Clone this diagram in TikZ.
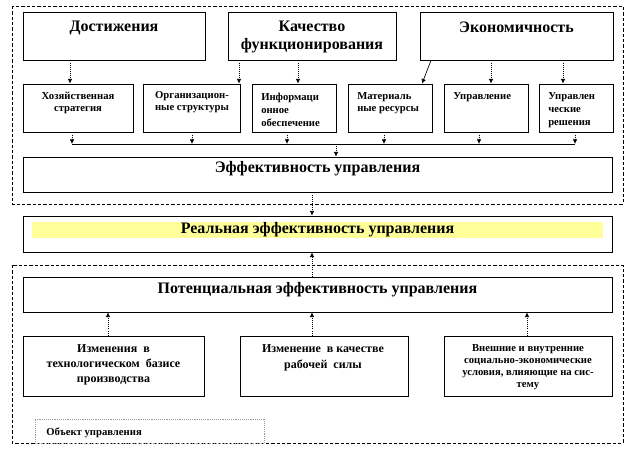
\documentclass[tikz,border=0pt]{standalone}
\usepackage{fontspec}
\setmainfont{Liberation Serif}[BoldFont={Liberation Serif Bold}]
\newfontfamily\tnr{Liberation Serif}[BoldFont={Liberation Serif Bold}]
\usetikzlibrary{arrows.meta}
\definecolor{paleyellow}{HTML}{FFFF99}
\definecolor{objgray}{HTML}{9A9A9A}

\begin{document}
\begin{tikzpicture}[x=0.75pt, y=-0.75pt,
    box/.style={draw=black, line width=0.6pt, inner sep=0pt},
    title/.style={font=\tnr\fontsize{12}{14}\selectfont\bfseries, align=center, inner sep=0pt},
    small/.style={font=\tnr\fontsize{8}{9.5}\selectfont\bfseries, inner sep=0pt},
    mid/.style={font=\tnr\fontsize{9}{11.5}\selectfont\bfseries, align=center, inner sep=0pt},
    arr/.style={-{Latex[length=3.5pt,width=3.5pt]}, densely dotted, line width=0.6pt},
    area/.style={draw, dash pattern=on 2.5pt off 1.5pt, line width=0.5pt}]
    \useasboundingbox (0,0) rectangle (636,468);

    % Areas
    \draw[area] (12,6) rectangle (623,204);
    \draw[area] (12,265) rectangle (623,443);

    % Top row
    \node[box, minimum width=136.5pt, minimum height=36pt] (dost) at (114,36) {};
    \node[title] (dostT) at (114,28) {Достижения};
    \node[box, minimum width=126pt, minimum height=36pt] (kach) at (312,36) {};
    \node[title, font=\tnr\fontsize{12}{13.5}\selectfont\bfseries] (kachT) at (312,37) {Качество\\функционирования};
    \node[box, minimum width=144.75pt, minimum height=36pt] (econ) at (516.5,36) {};
    \node[title] (econT) at (516.5,27) {Экономичность};

    % Second row
    \node[box, minimum width=82.5pt, minimum height=36pt] (hoz) at (78,108) {};
    \node[small, align=center] (hozT) at (78,103) {Хозяйственная\\стратегия};
    \node[box, minimum width=72.75pt, minimum height=36pt] (org) at (191.5,108) {};
    \node[small, align=center] (orgT) at (192,102) {Организацион-\\ные структуры};
    \node[box, minimum width=63pt, minimum height=36pt] (info) at (294,108) {};
    \node[small, align=left, anchor=west] (infoT) at (261,110) {Информаци\\онное\\обеспечение};
    \node[box, minimum width=63pt, minimum height=36pt] (mat) at (390,108) {};
    \node[small, align=left, anchor=west] (matT) at (357,103) {Материаль\\ные ресурсы};
    \node[box, minimum width=63pt, minimum height=36pt] (upr) at (486,108) {};
    \node[small, align=left, anchor=west] (uprT) at (453,97) {Управление};
    \node[box, minimum width=55.5pt, minimum height=36pt] (resh) at (576,108) {};
    \node[small, align=left, anchor=west] (reshT) at (548,110) {Управлен\\ческие\\решения};

    % Top row -> second row
    \draw[arr] (dost.south -| 70,0) -- (hoz.north -| 70,0);
    \draw[arr] (kach.south -| 239,0) -- (org.north -| 239,0);
    \draw[arr] (kach.south -| 298,0) -- (info.north -| 298,0);
    \draw[-{Latex[length=3.5pt,width=3.5pt]}, line width=0.5pt] (econ.south -| 431,0) -- (mat.north -| 422,0);
    \draw[arr] (econ.south -| 491,0) -- (upr.north -| 491,0);
    \draw[arr] (econ.south -| 563,0) -- (resh.north -| 563,0);

    % Bus
    \coordinate (busL) at (72,144);
    \coordinate (busR) at (575,144);
    \coordinate (busM) at (336,144);
    \draw[line width=0.6pt] (busL) -- (busR);
    \foreach \b/\x in {hoz/72,org/192,info/287,mat/384,upr/479,resh/575}
        \draw[arr] (\b.south -| \x,0) -- (busL -| \x,0);

    % Efficiency
    \node[box, minimum width=441.75pt, minimum height=26.25pt] (eff) at (317.5,174.5) {};
    \node[title] (effT) at (317.5,169) {Эффективность управления};
    \draw[arr] (busM) -- (eff.north -| busM);

    % Real efficiency
    \node[box, minimum width=441.75pt, minimum height=27pt] (real) at (317.5,234) {};
    \node[title, fill=paleyellow, minimum width=428.25pt, minimum height=12pt] (realT) at (317.5,230) {Реальная эффективность управления};
    \draw[arr] (eff.south -| 312,0) -- (real.north -| 312,0);

    % Potential efficiency
    \node[box, minimum width=441.75pt, minimum height=26.25pt] (pot) at (317.5,294.5) {};
    \node[title] (potT) at (317.5,290) {Потенциальная эффективность управления};
    \draw[arr] (pot.north -| 312,0) -- (real.south -| 312,0);

    % Factors
    \node[box, minimum width=135.75pt, minimum height=45pt] (tech) at (113.5,366) {};
    \node[mid] (techT) at (113.5,365) {Изменения\ \ в\\технологическом\ \ базисе\\производства};
    \node[box, minimum width=126pt, minimum height=45pt] (work) at (324,366) {};
    \node[mid] (workT) at (323,358) {Изменение\ \ в качестве\\рабочей\ \ силы};
    \node[box, minimum width=126pt, minimum height=45pt] (ext) at (528,366) {};
    \node[small, align=center, font=\tnr\fontsize{8}{9}\selectfont\bfseries] (extT) at (528,367) {Внешние и внутренние\\социально-экономические\\условия, влияющие на сис-\\тему};
    \draw[arr] (tech.north -| 108,0) -- (pot.south -| 108,0);
    \draw[arr] (work.north -| 312,0) -- (pot.south -| 312,0);
    \draw[arr] (ext.north -| 527,0) -- (pot.south -| 527,0);

    % Object
    \node[draw=objgray, densely dotted, inner sep=0pt, minimum width=171.75pt, minimum height=18pt] (obj) at (149.5,431) {};
    \node[small, anchor=west] (objT) at (46,433) {Объект управления};
\end{tikzpicture}
\end{document}
